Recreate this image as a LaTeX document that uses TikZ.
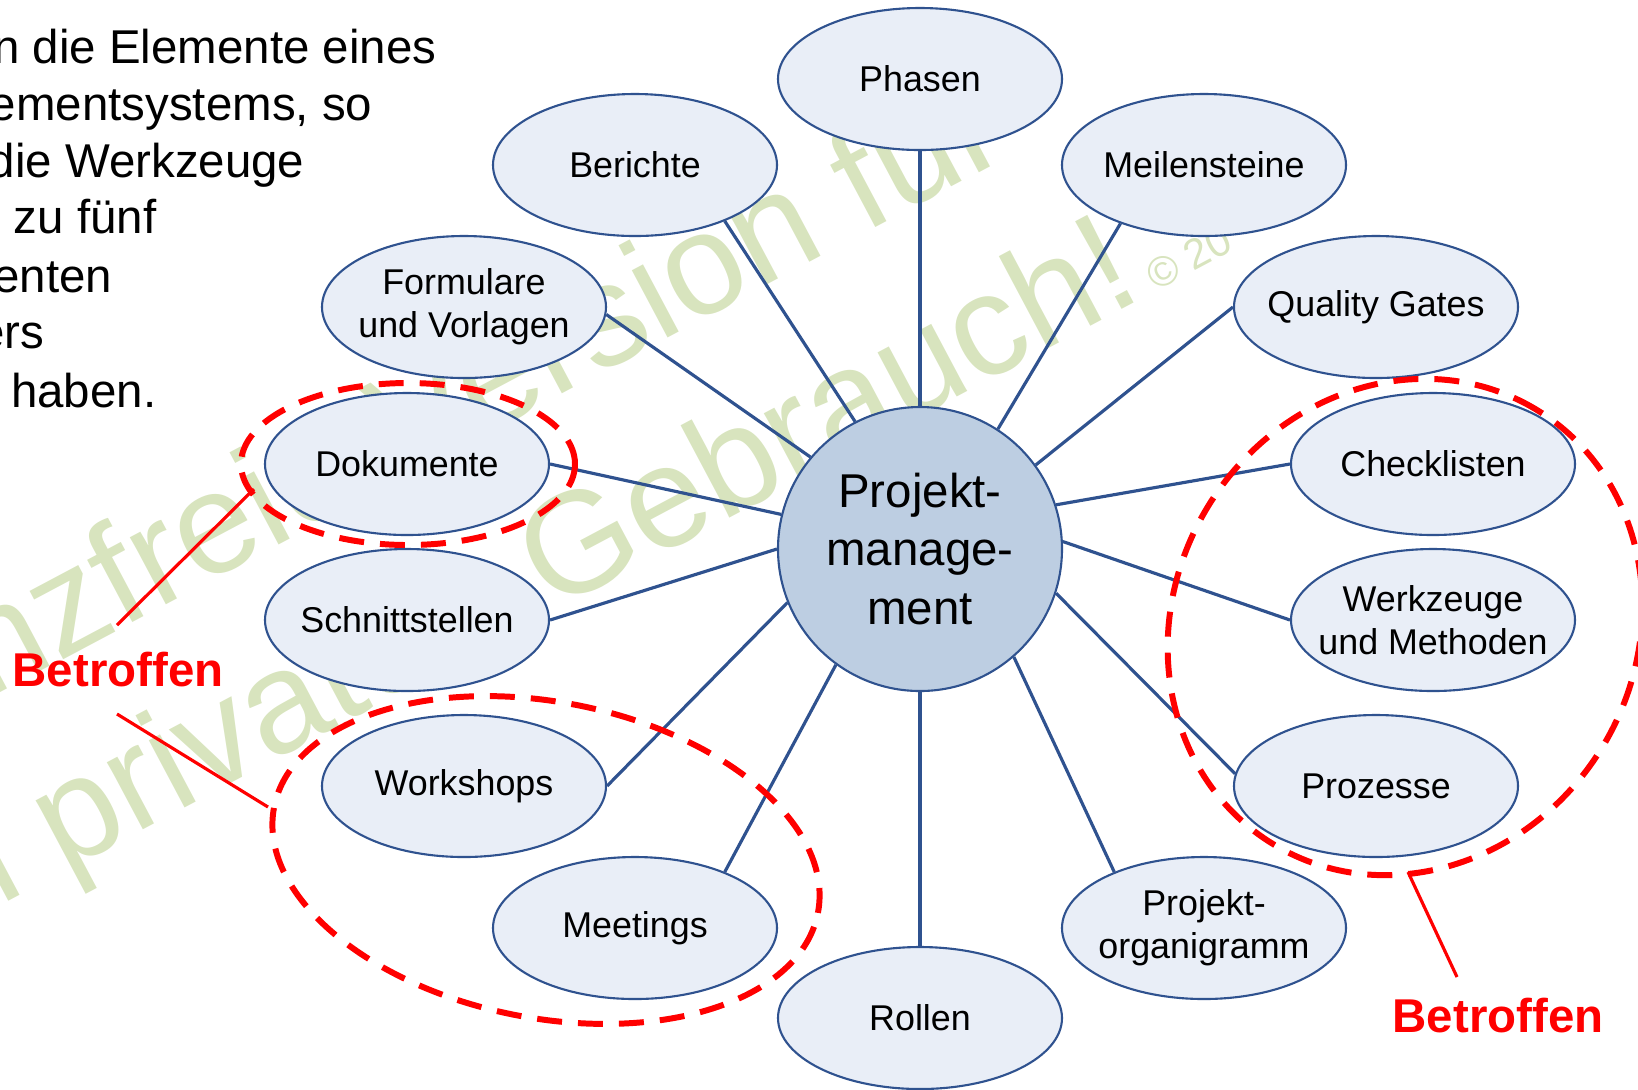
\documentclass[tikz,border=0pt]{standalone}
\usepackage{fontspec}
\setmainfont{Liberation Sans}
\usetikzlibrary{shapes.geometric}
\definecolor{elemfill}{HTML}{E9EEF7}
\definecolor{elemline}{HTML}{2F528F}
\definecolor{hubfill}{HTML}{BDCEE2}
\definecolor{wmgreen}{HTML}{D8E4BE}
\tikzset{
	elem/.style={ellipse, draw=elemline, line width=0.6pt, fill=elemfill, minimum width=28.4mm, minimum height=14.2mm, inner xsep=-12mm, inner ysep=-6mm, align=center, font=\fontsize{10.2}{12.2}\selectfont},
	hub/.style={circle, draw=elemline, line width=0.6pt, fill=hubfill, minimum size=28.4mm, inner sep=0pt, align=center, font=\fontsize{13.5}{16.6}\selectfont},
	conn/.style={draw=elemline, line width=0.9pt},
	grp/.style={draw=red, line width=1.7pt, dash pattern=on 2.5mm off 1.6mm},
	callout/.style={draw=red, line width=0.9pt},
	betr/.style={text=red, anchor=base west, inner sep=0pt, font=\fontsize{13.5}{16}\selectfont\bfseries},
	intro/.style={anchor=base east, inner sep=0pt, font=\fontsize{13.5}{16}\selectfont},
	wm/.style={text=wmgreen, anchor=base west, inner sep=0pt, rotate=28, font=\fontsize{41}{48}\selectfont}
}
\begin{document}
\begin{tikzpicture}[x=0.1mm, y=0.1mm]

	\useasboundingbox (0,0) rectangle (1638,-1089);
	\clip (0,0) rectangle (1638,-1089);

	% watermark
	\node[wm] (wm1) at (-13,-700) {nzfreie Version für};
	\node[wm] (wm2) at (-43,-929) {n privaten Gebrauch!{\fontsize{12}{14}\selectfont\ © 20}};

	% text on the left
	\node[intro] (t1) at (437,-63) {n die Elemente eines};
	\node[intro] (t2) at (373,-120) {ementsystems, so};
	\node[intro] (t3) at (305,-177) {die Werkzeuge};
	\node[intro] (t4) at (157,-233) {zu fünf};
	\node[intro] (t5) at (113,-292) {enten};
	\node[intro] (t6) at (45,-348) {ers};
	\node[intro] (t7) at (157,-407) {haben.};

	% elements
	\node[hub] (pm) at (920,-549) {Projekt-\\manage-\\ment};
	\node[elem] (pha) at (920,-79) {Phasen};
	\node[elem] (ber) at (635,-165) {Berichte};
	\node[elem] (mei) at (1204,-165) {Meilensteine};
	\node[elem] (for) at (464,-307) {Formulare\\und Vorlagen};
	\node[elem] (qg) at (1376,-307) {Quality Gates};
	\node[elem] (dok) at (407,-464) {Dokumente};
	\node[elem] (che) at (1433,-464) {Checklisten};
	\node[elem] (sch) at (407,-620) {Schnittstellen};
	\node[elem] (wer) at (1433,-620) {Werkzeuge\\und Methoden};
	\node[elem] (wor) at (464,-786) {Workshops};
	\node[elem] (pro) at (1376,-786) {Prozesse};
	\node[elem] (mee) at (635,-928) {Meetings};
	\node[elem] (org) at (1204,-928) {Projekt-\\organigramm};
	\node[elem] (rol) at (920,-1018) {Rollen};

	\draw[conn] (pha.south) -- (pm.north);
	\draw[conn] (ber.-32) -- (pm.117);
	\draw[conn] (mei.-145) -- (pm.57);
	\draw[conn] (for.-3) -- (pm.140);
	\draw[conn] (qg.west) -- (pm.36);
	\draw[conn] (dok.east) -- (pm.166);
	\draw[conn] (che.west) -- (pm.18);
	\draw[conn] (sch.east) -- (pm.180);
	\draw[conn] (wer.west) -- (pm.3);
	\draw[conn] (wor.east) -- (pm.-158);
	\draw[conn] (pro.175) -- (pm.-18);
	\draw[conn] (mee.32) -- (pm.-126);
	\draw[conn] (org.148) -- (pm.-49);
	\draw[conn] (rol.north) -- (pm.south);

	% affected groups
	\draw[grp] (408,-464) ellipse [x radius=167, y radius=81];
	\draw[grp, rotate around={-11:(546,-860)}] (546,-860) ellipse [x radius=277, y radius=158];
	\draw[grp, rotate around={59:(1405,-627)}] (1405,-627) ellipse [x radius=254, y radius=231];

	\node[betr] (bl) at (12,-686) {Betroffen};
	\node[betr] (br) at (1392,-1032) {Betroffen};

	\coordinate (c1a) at (117,-625);
	\coordinate (c1b) at (254,-489);
	\coordinate (c2a) at (117,-714);
	\coordinate (c2b) at (268,-807);
	\coordinate (c3a) at (1457,-977);
	\coordinate (c3b) at (1408,-872);
	\draw[callout] (c1a) -- (c1b);
	\draw[callout] (c2a) -- (c2b);
	\draw[callout] (c3a) -- (c3b);

\end{tikzpicture}
\end{document}
